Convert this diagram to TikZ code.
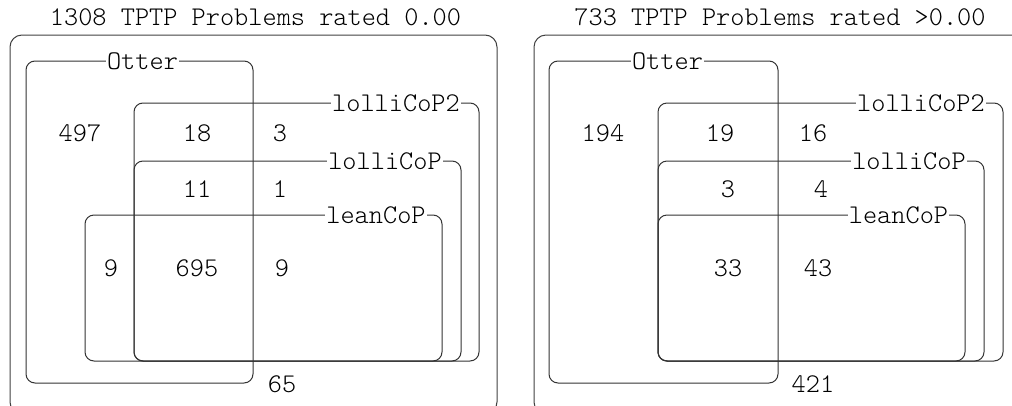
\documentclass[tikz,border=0pt]{standalone}
\newcommand\courfont{\fontseries{l}\ttfamily}
\begin{document}
\begin{tikzpicture}[x=1pt,y=-1pt,
  font=\courfont\fontsize{27}{32}\selectfont,
  box/.style={draw=black!80, line width=1pt, rounded corners=9pt},
  outer/.style={draw=black!75, line width=1pt, rounded corners=12pt},
  lab/.style={fill=white, inner xsep=1pt, inner ysep=0pt},
  num/.style={inner sep=0pt}]
\useasboundingbox (0,0) rectangle (1012,405);
\clip (0,0) rectangle (1012,405);
% ---------- left panel ----------
\node[num] (t1) at (255.5,17.5) {1308 TPTP Problems rated 0.00};
\draw[outer] (10,35) rectangle (497,414);
\draw[box] (26,61) rectangle (253,383);
\draw[box] (134,103) rectangle (479,361);
\draw[box] (134,161) rectangle (461,361);
\draw[box] (85,215) rectangle (442,361);
\node[lab] (o1) at (142.5,61) {Otter};
\node[lab] (q1) at (396,103) {lolliCoP2};
\node[lab] (p1) at (385,161) {lolliCoP};
\node[lab] (l1) at (376,215) {leanCoP};
\node[num] (a1) at (80,133) {497};
\node[num] (b1) at (197,133) {18};
\node[num] (c1) at (280,133) {3};
\node[num] (d1) at (197,189) {11};
\node[num] (e1) at (280,189) {1};
\node[num] (f1) at (111,268) {9};
\node[num] (g1) at (197,268) {695};
\node[num] (h1) at (282,268) {9};
\node[num] (i1) at (282,384) {65};
% ---------- right panel ----------
\node[num] (t2) at (780,17.5) {733 TPTP Problems rated >0.00};
\draw[outer] (534,35) rectangle (1040,414);
\draw[box] (549,61) rectangle (778,383);
\draw[box] (658,103) rectangle (1003,361);
\draw[box] (658,161) rectangle (984,361);
\draw[box] (658,215) rectangle (965,361);
\node[lab] (o2) at (667.5,61) {Otter};
\node[lab] (q2) at (921,103) {lolliCoP2};
\node[lab] (p2) at (909,161) {lolliCoP};
\node[lab] (l2) at (898.5,215) {leanCoP};
\node[num] (a2) at (603,133) {194};
\node[num] (b2) at (720,133) {19};
\node[num] (c2) at (813,133) {16};
\node[num] (d2) at (728,189) {3};
\node[num] (e2) at (821,189) {4};
\node[num] (g2) at (728,268) {33};
\node[num] (h2) at (818,268) {43};
\node[num] (i2) at (813,384) {421};
\end{tikzpicture}
\end{document}
